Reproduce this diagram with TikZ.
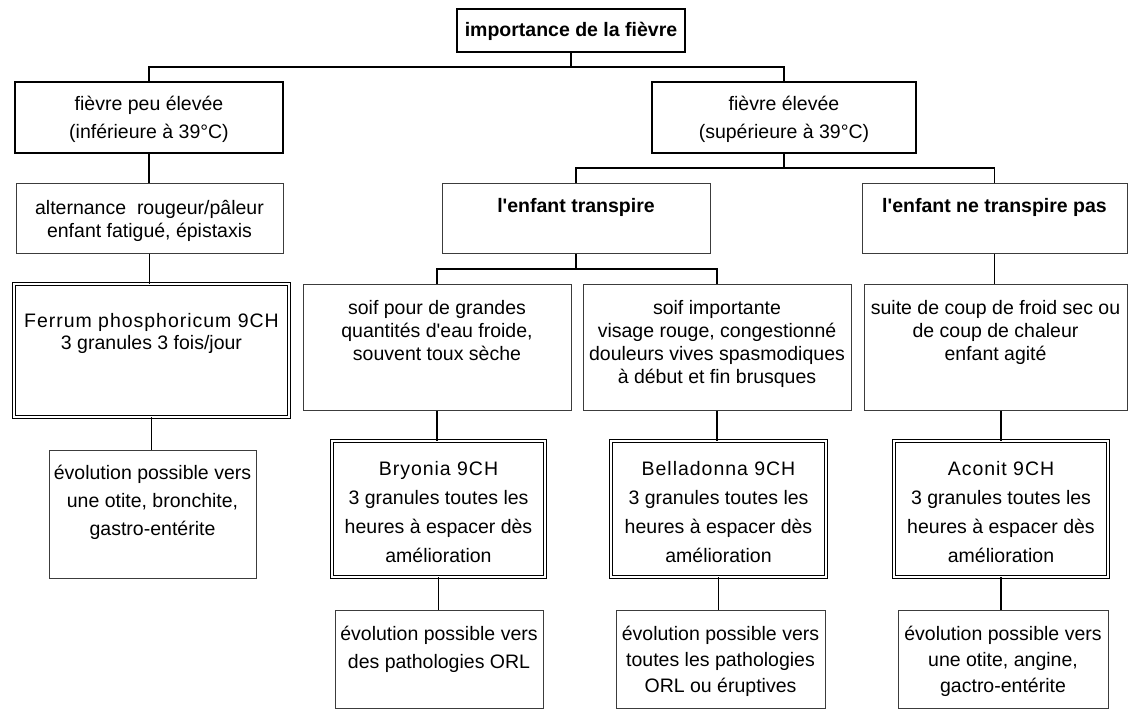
\documentclass[tikz,border=0pt]{standalone}
\usepackage{fontspec}
\setmainfont{Liberation Sans}
\newfontfamily\remedyfont[LetterSpace=5]{Liberation Sans}
\definecolor{scanGray}{RGB}{60,60,60}

% width, height, first baseline, line spacing, text
\newcommand{\cell}[5]{%
  \parbox[c][#2pt][t]{#1pt}{\centering\fontsize{19.5}{#4}\selectfont\rule{0pt}{#3pt}#5}}
\newcommand{\apos}{\textquotesingle}

\begin{document}
\begin{tikzpicture}[x=1pt, y=-1pt,
  box/.style={draw=scanGray, line width=1pt, inner sep=0pt},
  head/.style={draw=black, line width=1.2pt, inner sep=0pt},
  remedy/.style={draw=black, double, double distance=1.5pt, line width=0.9pt, inner sep=0pt},
  link/.style={line width=1.3pt}]

  \useasboundingbox (0,0) rectangle (1129,709);

  % top of the tree
  \node[head] (fievre) at (571,30.5) {\cell{228}{43}{28}{23}{\bfseries importance de la fièvre}};

  % first split
  \node[head] (peu) at (149,117.5) {\cell{268}{71}{28}{28}{fièvre peu élevée\\(inférieure à 39°C)}};
  \node[head] (haute) at (784,117.5) {\cell{264}{71}{28}{28}{fièvre élevée\\(supérieure à 39°C)}};

  % second row
  \node[box] (signes) at (149.5,218) {\cell{267}{70}{31}{23}{alternance\ \ rougeur/pâleur\\enfant fatigué, épistaxis}};
  \node[box] (transp) at (576,218) {\cell{268}{70}{29}{23}{\bfseries l\apos enfant transpire}};
  \node[box] (sec) at (994.5,218) {\cell{265}{70}{29}{23}{\bfseries l\apos enfant ne transpire pas}};

  % third row
  \node[remedy] (ferrum) at (151.5,350.5) {\cell{275}{133}{43}{22}{{\remedyfont Ferrum phosphoricum 9CH}\\3 granules 3 fois/jour}};
  \node[box] (soif) at (437,347) {\cell{268}{126}{30}{23}{soif pour de grandes\\quantités d\apos eau froide,\\souvent toux sèche}};
  \node[box] (congest) at (717,347) {\cell{268}{126}{30}{23}{soif importante\\visage rouge, congestionné\\douleurs vives spasmodiques\\à début et fin brusques}};
  \node[box] (froid) at (995.5,347) {\cell{263}{126}{30}{23}{suite de coup de froid sec ou\\de coup de chaleur\\enfant agité}};

  % remedies
  \node[box] (evol) at (152.5,514) {\cell{207}{128}{29}{28}{évolution possible vers\\une otite, bronchite,\\gastro-entérite}};
  \node[remedy] (bryonia) at (438.5,509) {\cell{213}{136}{34}{29}{{\remedyfont Bryonia 9CH}\\3 granules toutes les\\heures à espacer dès\\amélioration}};
  \node[remedy] (bella) at (718.5,509) {\cell{215}{136}{34}{29}{{\remedyfont Belladonna 9CH}\\3 granules toutes les\\heures à espacer dès\\amélioration}};
  \node[remedy] (aconit) at (1001,509) {\cell{214}{136}{34}{29}{{\remedyfont Aconit 9CH}\\3 granules toutes les\\heures à espacer dès\\amélioration}};

  % what may follow
  \node[box] (orl) at (439,659) {\cell{208}{98}{30}{28}{évolution possible vers\\des pathologies ORL}};
  \node[box] (erupt) at (720.5,659) {\cell{209}{98}{30}{26}{évolution possible vers\\toutes les pathologies\\ORL ou éruptives}};
  \node[box] (angine) at (1003,659) {\cell{210}{98}{30}{26}{évolution possible vers\\une otite, angine,\\gactro-entérite}};

  % branching points
  \coordinate (j1) at (571,67);
  \coordinate (j2) at (784,168);
  \coordinate (j3) at (576,269);

  \draw[link] (fievre) -- (j1);
  \draw[link] (peu.north) |- (j1) -| (haute.north);
  \draw[link] (haute) -- (j2);
  \draw[link] (transp.north) |- (j2) -| (sec.north);
  \draw[link] (transp) -- (j3);
  \draw[link] (soif.north) |- (j3) -| (congest.north);

  % straight links
  \draw[link] (peu.south) -- (peu.south |- signes.north);
  \draw[link] (signes.south) -- (signes.south |- ferrum.north);
  \draw[link] (ferrum.south) -- (ferrum.south |- evol.north);
  \draw[link] (sec.south) -- (sec.south |- froid.north);
  \draw[link] (soif.south) -- (soif.south |- bryonia.north);
  \draw[link] (congest.south) -- (congest.south |- bella.north);
  \draw[link] (aconit.north |- froid.south) -- (aconit.north);
  \draw[link] (bryonia.south) -- (bryonia.south |- orl.north);
  \draw[link] (bella.south) -- (bella.south |- erupt.north);
  \draw[link] (aconit.south) -- (aconit.south |- angine.north);

\end{tikzpicture}
\end{document}
